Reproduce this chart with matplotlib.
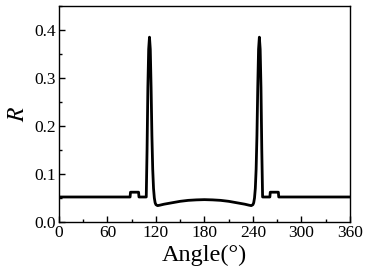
import matplotlib
matplotlib.use("Agg")
import matplotlib.pyplot as plt
from matplotlib.ticker import MultipleLocator

angle = [0, 88, 88.5, 98.5, 99, 108, 109, 110, 111, 112, 113, 114, 115, 116, 117, 118, 119, 120, 122,
         125, 130, 140, 150, 160, 170, 180,
         190, 200, 210, 220, 230, 235, 238, 240, 241, 242, 243, 244, 245, 246, 247, 248, 249, 250, 251,
         252, 261, 261.5, 271.5, 272, 360]
R = [0.052, 0.052, 0.062, 0.062, 0.052, 0.052, 0.15, 0.28, 0.36, 0.385, 0.36, 0.28, 0.18, 0.11, 0.07, 0.05, 0.04, 0.036, 0.034,
     0.035, 0.037, 0.040, 0.043, 0.045, 0.046, 0.0465,
     0.046, 0.045, 0.043, 0.040, 0.037, 0.035, 0.034, 0.036, 0.04, 0.05, 0.07, 0.11, 0.18, 0.28, 0.36, 0.385, 0.36, 0.28, 0.15,
     0.052, 0.052, 0.062, 0.062, 0.052, 0.052]

x_ticks = [0, 60, 120, 180, 240, 300, 360]
y_ticks = [0.0, 0.1, 0.2, 0.3, 0.4]

plt.rcParams['font.family'] = ['Liberation Serif', 'DejaVu Serif']
plt.rcParams['mathtext.fontset'] = 'stix'

fig = plt.figure(figsize=(3.71, 2.72), dpi=100)
ax = fig.add_axes([0.159, 0.184, 0.784, 0.794])
ax.plot(angle, R, color='black', lw=2.0, solid_joinstyle='round')
ax.set_xlim(0, 360)
ax.set_ylim(0, 0.45)
ax.set_xticks(x_ticks)
ax.set_yticks(y_ticks)
ax.set_yticklabels([f"{v:.1f}" for v in y_ticks])
ax.xaxis.set_minor_locator(MultipleLocator(30))
ax.yaxis.set_minor_locator(MultipleLocator(0.05))
ax.tick_params(which='both', direction='in', top=False, right=False, labelsize=12.5, width=1.0)
ax.tick_params(which='major', length=4, pad=2)
ax.tick_params(which='minor', length=2.5)
for s in ax.spines.values():
    s.set_linewidth(1.0)
ax.set_xlabel('Angle(°)', fontsize=17.5, labelpad=3)
ax.set_ylabel('$R$', fontsize=17, labelpad=4)
fig.savefig('out.png', dpi=100)
